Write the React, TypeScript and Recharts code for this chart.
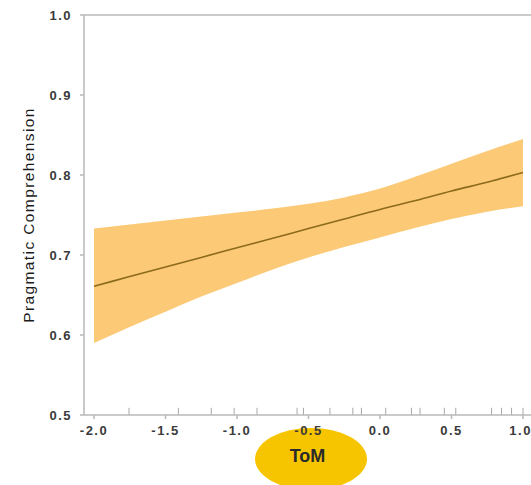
import React from "react";
import {
  ComposedChart,
  Area,
  Line,
  XAxis,
  YAxis,
  ReferenceLine,
} from "recharts";

const tomValues = [-2.0, -1.75, -1.5, -1.25, -1.0, -0.75, -0.5, -0.25, 0.0, 0.25, 0.5, 0.75, 1.0];
const fitValues = [0.661, 0.673, 0.685, 0.697, 0.709, 0.721, 0.733, 0.745, 0.757, 0.768, 0.78, 0.791, 0.803];
const lowerValues = [0.59, 0.61, 0.629, 0.648, 0.665, 0.682, 0.697, 0.71, 0.722, 0.734, 0.745, 0.754, 0.761];
const upperValues = [0.733, 0.738, 0.743, 0.748, 0.753, 0.758, 0.764, 0.772, 0.783, 0.798, 0.814, 0.83, 0.845];

const rugValues = [
  -1.755, -1.41, -1.18, -1.02, -0.86, -0.58, -0.535, -0.35, -0.19, -0.13,
  0.04, 0.22, 0.28, 0.45, 0.53, 0.78, 0.85, 0.92, 1.0,
];

const xTicks = [-2.0, -1.5, -1.0, -0.5, 0.0, 0.5, 1.0];
const yTicks = [0.5, 0.6, 0.7, 0.8, 0.9, 1.0];

const data = tomValues.map((x, i) => ({
  x,
  fit: fitValues[i],
  band: [lowerValues[i], upperValues[i]],
}));

const axisColor = "#b8b8b8";
const tickStyle = {
  fontFamily: "Liberation Sans, Arial, sans-serif",
  fontSize: 13,
  fontWeight: "bold" as const,
  fill: "#3a3a3a",
  letterSpacing: 1.5,
};

export default function App() {
  return (
    <div style={{ position: "absolute", left: 0, top: 0, width: 531, height: 485, background: "#fff" }}>
      {/* yellow highlight behind the x axis title */}
      <div
        style={{
          position: "absolute",
          left: 255,
          top: 428,
          width: 112,
          height: 62,
          borderRadius: "50%",
          background: "#f7c500",
        }}
      />
      <div style={{ position: "absolute", left: 0, top: 0 }}>
        <ComposedChart
          width={531}
          height={485}
          data={data}
          margin={{ top: 14, right: 0, bottom: 0, left: 0 }}
        >
          <XAxis
            xAxisId="top"
            orientation="top"
            type="number"
            dataKey="x"
            domain={[-2, 1]}
            ticks={xTicks}
            padding={{ left: 10, right: 8 }}
            tick={false}
            tickSize={5}
            tickLine={{ stroke: axisColor }}
            height={1}
            stroke={axisColor}
            strokeWidth={1.5}
          />
          <XAxis
            xAxisId="bottom"
            type="number"
            dataKey="x"
            domain={[-2, 1]}
            ticks={xTicks}
            tickFormatter={(v: number) => v.toFixed(1)}
            padding={{ left: 10, right: 8 }}
            tickSize={4}
            tickMargin={7}
            height={70}
            tick={tickStyle}
            stroke={axisColor}
            strokeWidth={1.5}
            label={{
              value: "ToM",
              position: "insideTop",
              offset: 34,
              style: {
                fontFamily: "Liberation Sans, Arial, sans-serif",
                fontSize: 18,
                fontWeight: "bold",
                fill: "#2a2a2a",
              },
            }}
          />
          <YAxis
            type="number"
            domain={[0.5, 1.0]}
            ticks={yTicks}
            tickFormatter={(v: number) => v.toFixed(1)}
            width={84}
            tickSize={4}
            tickMargin={8}
            tick={tickStyle}
            stroke={axisColor}
            strokeWidth={1.5}
            label={{
              value: "Pragmatic Comprehension",
              angle: -90,
              position: "insideLeft",
              offset: 28,
              style: {
                textAnchor: "middle",
                fontFamily: "Liberation Sans, Arial, sans-serif",
                fontSize: 15.5,
                letterSpacing: 1.4,
                fill: "#1a1a1a",
              },
            }}
          />
          <Area
            xAxisId="bottom"
            type="monotone"
            dataKey="band"
            stroke="none"
            fill="#fcca76"
            fillOpacity={1}
            isAnimationActive={false}
          />
          <Line
            xAxisId="bottom"
            type="monotone"
            dataKey="fit"
            stroke="#8c6a1c"
            strokeWidth={1.6}
            dot={false}
            isAnimationActive={false}
          />
          {rugValues.map((r, i) => (
            <ReferenceLine
              key={i}
              xAxisId="bottom"
              segment={[
                { x: r, y: 0.5 },
                { x: r, y: 0.509 },
              ]}
              stroke="#a8a8a8"
              strokeWidth={1}
            />
          ))}
        </ComposedChart>
      </div>
    </div>
  );
}
